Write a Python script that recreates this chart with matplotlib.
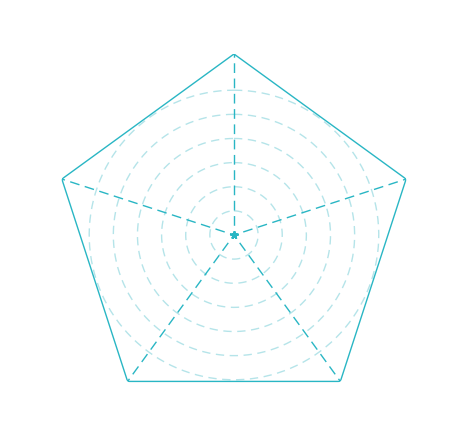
import matplotlib as mpl
mpl.use('Agg')
import matplotlib.pyplot as plt
import numpy as np

# radar with five (unlabelled) axes, series all at zero
categories = ['', '', '', '', '']
values = [0, 0, 0, 0, 0]
rings = [1, 2, 3, 4, 5, 6]
r_max = 7.5

teal = '#29b6c4'
light = '#b5e4e9'

fig = plt.figure(figsize=(4.66, 4.47), dpi=100)
ax = fig.add_axes([0.1137, 0.0694, 0.7768, 0.8098], projection='polar')
ax.set_theta_offset(np.pi / 2)
ax.set_theta_direction(-1)
ax.set_ylim(0, r_max)

angles = np.linspace(0, 2 * np.pi, len(categories), endpoint=False)

# dashed concentric rings
ax.set_rgrids(rings, labels=[''] * len(rings))
ax.set_thetagrids([])
ax.grid(False)
theta = np.linspace(0, 2 * np.pi, 400)
for r in rings:
    ax.plot(theta, np.full_like(theta, r), color=light, lw=1.0,
            dashes=(6, 4))

# dashed spokes, starting with a gap at the centre
for a in angles:
    ax.plot([a, a], [0, r_max], color=teal, lw=1.0,
            linestyle=(4, (7, 4)))

# outer pentagon
closed = np.append(angles, angles[0])
ax.plot(closed, [r_max] * len(closed), color=teal, lw=1.0)

# series (all zeros)
ax.plot(angles, values, linestyle='none', marker='*', markersize=5.5,
        color=teal, alpha=0.85)

ax.spines['polar'].set_visible(False)
ax.set_xticklabels([])
ax.set_yticklabels([])
ax.patch.set_alpha(0)

fig.savefig('out.png', dpi=100)
